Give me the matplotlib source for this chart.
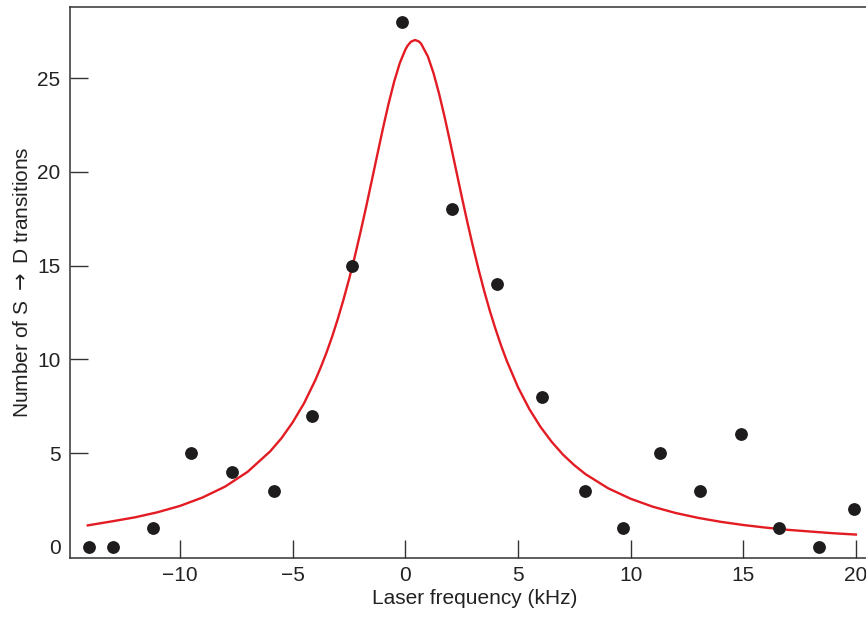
import matplotlib
matplotlib.use("Agg")
import matplotlib.pyplot as plt

# measured counts
freq_khz = [-14.06, -12.98, -11.2, -9.53, -7.68, -5.82, -4.16, -2.38, -0.14, 2.08,
            4.07, 6.08, 7.99, 9.67, 11.3, 13.06, 14.9, 16.6, 18.34, 19.92]
counts = [0, 0, 1, 5, 4, 3, 7, 15, 28, 18, 14, 8, 3, 1, 5, 3, 6, 1, 0, 2]

# fitted line
fit_x = [-14.1, -13, -12, -11, -10, -9, -8, -7, -6, -5.5, -5, -4.5, -4, -3.75, -3.5,
         -3.25, -3, -2.75, -2.5, -2.25, -2, -1.75, -1.5, -1.25, -1, -0.75, -0.5, -0.25,
         0, 0.1, 0.25, 0.43, 0.6, 0.7, 1, 1.25, 1.5, 1.75, 2, 2.25, 2.5, 2.75, 3, 3.25,
         3.5, 3.75, 4, 4.25, 4.5, 5, 5.5, 6, 6.5, 7, 7.5, 8, 9, 10, 11, 12, 13, 14, 15, 16,
         17, 18, 19, 20]
fit_y = [1.15, 1.37, 1.58, 1.85, 2.19, 2.64, 3.22, 4.01, 5.10, 5.80, 6.65, 7.66, 8.89,
         9.60, 10.37, 11.22, 12.16, 13.18, 14.28, 15.47, 16.75, 18.09, 19.49, 20.90,
         22.30, 23.62, 24.81, 25.80, 26.53, 26.74, 26.95, 27.04, 26.96, 26.84, 26.16,
         25.27, 24.16, 22.89, 21.52, 20.11, 18.70, 17.33, 16.03, 14.80, 13.65, 12.59,
         11.63, 10.74, 9.93, 8.52, 7.36, 6.40, 5.60, 4.92, 4.36, 3.88, 3.13, 2.57, 2.14,
         1.81, 1.55, 1.34, 1.17, 1.03, 0.91, 0.82, 0.73, 0.66]

x_ticks = [-10, -5, 0, 5, 10, 15, 20]
y_ticks = [0, 5, 10, 15, 20, 25]

plt.rcParams['font.family'] = ['Liberation Sans', 'DejaVu Sans']
plt.rcParams['mathtext.fontset'] = 'dejavusans'

fig = plt.figure(figsize=(8.66, 6.19), dpi=100)
ax = fig.add_axes([69.5/866, 61/619, (880-69.5)/866, 551/619])

ax.plot(fit_x, fit_y, color='#e31b23', lw=1.7, zorder=2, solid_joinstyle='round')
ax.plot(freq_khz, counts, 'o', color='#1e1c1d', ms=8.2, zorder=3)

ax.set_xlim(-14.91, 21.07)
ax.set_ylim(-0.59, 28.8)
ax.set_xticks(x_ticks)
ax.set_xticklabels(['\u221210', '\u22125', '0', '5', '10', '15', '20'])
ax.set_yticks(y_ticks)

ax.tick_params(axis='both', direction='in', length=13, width=1.0, color='#333333',
               labelsize=15, labelcolor='#222222')
ax.tick_params(axis='x', pad=6)
ax.tick_params(axis='y', pad=6.5)
ax.yaxis.get_major_ticks()[0].tick1line.set_visible(False)

ax.spines['right'].set_visible(False)
for s in ['left', 'bottom', 'top']:
    ax.spines[s].set_color('#333333')
    ax.spines[s].set_linewidth(1.1)

ax.set_xlabel('Laser frequency (kHz)', fontsize=15, color='#222222', labelpad=3)
ax.set_ylabel('Number of S $\\rightarrow$ D transitions', fontsize=15, color='#222222',
              labelpad=4)

fig.savefig('out.png', dpi=100)
